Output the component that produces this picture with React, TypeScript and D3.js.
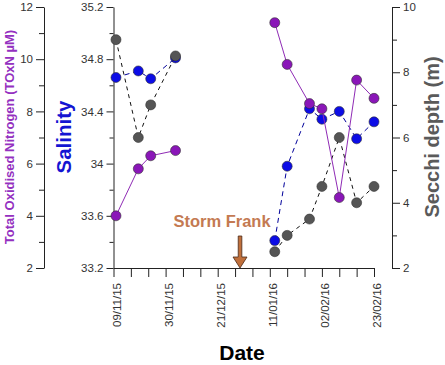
// @ts-nocheck

import React from 'react'
import * as d3 from 'd3'

// days since 09/11/15
const sampleDays = [1, 10, 15, 25, 65, 70, 79, 84, 91, 98, 105]
const toxn = [4.0, 5.8, 6.3, 6.5, 11.4, 9.8, 8.3, 8.1, 4.7, 9.2, 8.5]
const salinity = [34.66, 34.71, 34.65, 34.81, 33.41, 33.98, 34.42, 34.34, 34.4, 34.19, 34.32]
const secchi = [9.0, 6.0, 7.0, 8.5, 2.5, 3.0, 3.5, 4.5, 6.0, 4.0, 4.5]

const dateTickDays = [0, 21, 42, 63, 84, 105]
const dateTickLabels = ['09/11/15', '30/11/15', '21/12/15', '11/01/16', '02/02/16', '23/02/16']
const gapDay = 40 // no sampling between the two campaigns
const stormDay = 51

const App = () => {
  const svgRef = React.useRef(null)
  const width = 445
  const height = 365
  const top = 7
  const bottom = 268
  const left = 113.5
  const right = 374

  React.useEffect(() => {
    document.body.style.margin = '0'
    const x = d3.scaleLinear().domain([0, 105]).range([left, right])
    const yN = d3.scaleLinear().domain([2, 12]).range([bottom, top])
    const yS = d3.scaleLinear().domain([33.2, 35.2]).range([bottom, top])
    const yD = d3.scaleLinear().domain([2, 10]).range([bottom, top])

    const svgEl = d3.select(svgRef.current)
    svgEl.selectAll('*').remove()
    const svg = svgEl.append('g')
    const font = 'Liberation Sans, Arial, sans-serif'

    const styleAxis = (g) => {
      g.selectAll('path, line').attr('stroke', '#222').attr('stroke-width', 1)
      g.selectAll('text').attr('font-family', font).attr('font-size', 11.5).attr('fill', '#333')
    }

    // TOxN axis
    const nAxis = svg.append('g').attr('transform', 'translate(44,0)')
    nAxis.call(d3.axisLeft(yN).tickValues([2, 4, 6, 8, 10, 12]).tickSize(8).tickSizeOuter(0).tickPadding(3))
    nAxis.append('g').call(d3.axisLeft(yN).tickValues([3, 5, 7, 9, 11]).tickSize(5).tickFormat('')).select('.domain').remove()
    styleAxis(nAxis)

    // Salinity axis
    const sAxis = svg.append('g').attr('transform', `translate(${left},0)`)
    sAxis.call(
      d3.axisLeft(yS)
        .tickValues(d3.range(0, 6).map((i) => 33.2 + i * 0.4))
        .tickSize(7)
        .tickSizeOuter(0)
        .tickPadding(3)
        .tickFormat((d) => String(+d.toFixed(1))),
    )
    sAxis.append('g').call(
      d3.axisLeft(yS).tickValues(d3.range(0, 5).map((i) => 33.4 + i * 0.4)).tickSize(4).tickFormat(''),
    ).select('.domain').remove()
    styleAxis(sAxis)

    // Secchi axis
    const dAxis = svg.append('g').attr('transform', 'translate(392,0)')
    dAxis.call(d3.axisRight(yD).tickValues([2, 4, 6, 8, 10]).tickSize(8).tickSizeOuter(0).tickPadding(3))
    dAxis.append('g').call(d3.axisRight(yD).tickValues([3, 5, 7, 9]).tickSize(5).tickFormat('')).select('.domain').remove()
    styleAxis(dAxis)

    // Date axis
    const xAxis = svg.append('g').attr('transform', `translate(0,${bottom})`)
    xAxis.call(d3.axisBottom(x).tickValues(d3.range(0, 106, 7)).tickSize(9).tickSizeOuter(0).tickFormat(''))
    styleAxis(xAxis)
    svg
      .selectAll('.xlab')
      .data(dateTickDays)
      .enter()
      .append('text')
      .attr('transform', (d) => `translate(${x(d) + 3},${bottom + 15}) rotate(-90)`)
      .attr('text-anchor', 'end')
      .attr('dominant-baseline', 'central')
      .attr('font-family', font)
      .attr('font-size', 11.5)
      .attr('fill', '#333')
      .text((d, i) => dateTickLabels[i])

    const series = [
      { values: salinity, y: yS, fill: '#0c0ce6', line: '#00009a', dash: '5,4' },
      { values: secchi, y: yD, fill: '#555555', line: '#111111', dash: '4,4' },
      { values: toxn, y: yN, fill: '#8a16b8', line: '#8f2bb5', dash: null },
    ]

    series.forEach((s) => {
      const pts = sampleDays.map((d, i) => ({ d, v: s.values[i] }))
      const line = d3.line().x((p) => x(p.d)).y((p) => s.y(p.v))
      ;[pts.filter((p) => p.d < gapDay), pts.filter((p) => p.d > gapDay)].forEach((seg) => {
        svg
          .append('path')
          .attr('d', line(seg))
          .attr('fill', 'none')
          .attr('stroke', s.line)
          .attr('stroke-width', 1)
          .attr('stroke-dasharray', s.dash)
      })
      svg
        .selectAll(null)
        .data(pts)
        .enter()
        .append('circle')
        .attr('cx', (p) => x(p.d))
        .attr('cy', (p) => s.y(p.v))
        .attr('r', 5)
        .attr('fill', s.fill)
        .attr('stroke', '#333')
        .attr('stroke-width', 0.6)
    })

    // Storm Frank arrow
    const ax = x(stormDay)
    svg
      .append('path')
      .attr(
        'd',
        `M${ax - 1.8},236 L${ax + 1.8},236 L${ax + 1.8},257 L${ax + 7},257 L${ax},${bottom} L${ax - 7},257 L${ax - 1.8},257 Z`,
      )
      .attr('fill', '#c0703c')
      .attr('stroke', '#4a2816')
      .attr('stroke-width', 0.8)
    svg
      .append('text')
      .attr('x', ax - 18)
      .attr('y', 227)
      .attr('text-anchor', 'middle')
      .attr('font-family', font)
      .attr('font-weight', 'bold')
      .attr('font-size', 16.5)
      .attr('fill', '#c47a52')
      .text('Storm Frank')

    // axis titles
    const title = (t, tx, ty, rot, size, color) =>
      svg
        .append('text')
        .attr('transform', `translate(${tx},${ty}) rotate(${rot})`)
        .attr('text-anchor', 'middle')
        .attr('dominant-baseline', 'central')
        .attr('font-family', font)
        .attr('font-weight', 'bold')
        .attr('font-size', size)
        .attr('fill', color)
        .text(t)
    title('Total Oxidised Nitrogen (TOxN µM)', 9.5, 137, -90, 13, '#9430c0')
    title('Salinity', 63.5, 137, -90, 20.5, '#1414d2')
    title('Secchi depth (m)', 432, 137, -90, 20, '#5a5a5a')
    title('Date', 242, 352, 0, 21, '#000')
  }, [])

  return <svg ref={svgRef} width={width} height={height} style={{ display: 'block', background: '#fff' }} />
}

export default App
